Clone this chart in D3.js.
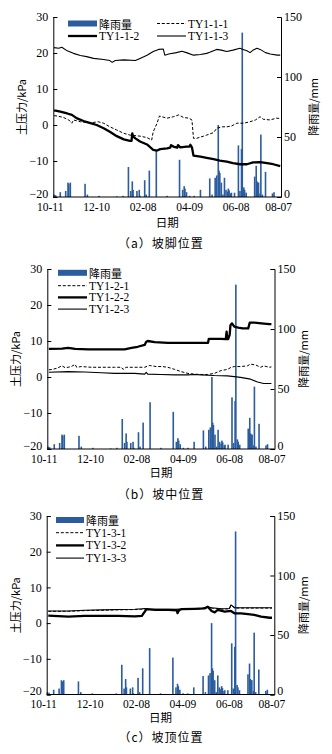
<!DOCTYPE html>
<html>
<head>
<meta charset="utf-8">
<script src="https://cdn.jsdelivr.net/npm/d3@7"></script>
<style>
  body { margin: 0; background: #fff; }
  svg { display: block; }
</style>
</head>
<body>
<svg id="chart" width="332" height="754"></svg>
<script>
// ---- data: days counted from 10-11 ----
const tickDays = [0, 60, 120, 180, 240, 300];
const tickLabels = ["10-11", "12-10", "02-08", "04-09", "06-08", "08-07"];
const pressureTicks = [-20, -10, 0, 10, 20, 30];
const rainTicks = [0, 50, 100, 150];

// daily rainfall (mm)
const rainDays = [5, 7, 13, 20, 23, 24, 26, 45, 48, 63, 86, 94, 101, 104, 106, 107, 112, 115, 116, 122, 124, 128, 137,
  151, 167, 171, 173, 174, 176, 180, 186, 194, 206, 209, 213, 215, 217, 218, 219, 221, 223, 225, 227, 229, 230, 231,
  233, 234, 238, 243, 245, 247, 248, 250, 251, 253, 264, 266, 267, 268, 269, 271, 272, 274, 278, 287, 289];
const rainMm = [2, 1.5, 4, 5, 12, 11, 12, 11, 2, 1, 0.5, 1, 25, 5, 13, 6, 5, 6, 1, 14, 2, 22, 39,
  1, 31, 6, 9, 7, 4, 1, 1, 6, 15.5, 2, 16, 18, 60, 22, 20, 12, 2, 16, 6, 4.5, 7, 5.5,
  3, 3.6, 3.6, 43, 5, 40, 137, 8, 6, 3.6, 17, 26, 13, 12, 12, 3, 52, 2, 21, 3, 4];

// (a) slope toe
const ty111Days = [5, 9, 17, 24, 28, 30, 39, 52, 62, 69, 77, 86, 95, 103, 116, 125, 131, 133, 138, 141, 144, 151, 159, 166,
  172, 179, 183, 185, 189, 198, 202, 206, 211, 215, 222, 228, 234, 241, 250, 258, 265, 271, 275, 284, 292, 297];
const ty111Vals = [2.6, 2.5, 2.1, 1.4, 0.5, 1.4, 0.9, 0.6, 0.9, 0.5, -0.5, -1.4, -2.3, -2.8, -3.1, -3.5, -4.2, -1.9, 0.5, 2.5,
  2.3, 1.9, 2.3, 2.8, 2.1, 1.9, 1.4, -3.7, -3.7, -3.1, -2.8, -2.5, -2.1, -0.9, -0.5, -0.5, -0.3, 0.5, 0.5, 0.9, 1.4, 2.3,
  1.6, 1.4, 1.9, 1.8];
const ty112Days = [5, 7, 13, 22, 28, 34, 43, 52, 60, 69, 77, 86, 95, 103, 105, 106, 107, 110, 116, 125, 133, 138, 142, 151,
  155, 156, 159, 164, 165, 168, 176, 180, 181, 183, 185, 194, 202, 211, 219, 228, 236, 245, 254, 262, 271, 280, 288, 297];
const ty112Vals = [4.0, 4.0, 3.7, 3.2, 2.8, 1.9, 1.1, 0.5, 0.0, -0.9, -1.9, -3.1, -4.0, -4.4, -4.4, -2.3, -3.2, -3.7, -4.6,
  -5.4, -6.9, -7.1, -6.7, -6.5, -6.3, -5.6, -6.0, -6.3, -5.6, -6.2, -6.0, -6.0, -5.5, -6.2, -8.5, -8.8, -9.1, -9.5, -9.9,
  -10.2, -10.6, -10.9, -10.9, -10.4, -10.3, -10.6, -10.9, -11.4];
const ty113Days = [5, 11, 15, 22, 30, 39, 47, 56, 69, 77, 80, 84, 95, 110, 116, 125, 133, 140, 146, 148, 153, 163, 170, 176,
  185, 194, 202, 206, 215, 221, 228, 236, 245, 249, 254, 258, 262, 267, 271, 278, 284, 293, 297];
const ty113Vals = [21.5, 21.3, 21.6, 20.6, 19.9, 19.3, 19.0, 18.5, 18.2, 17.9, 17.4, 17.9, 18.1, 17.9, 18.5, 19.4, 20.4, 21.0,
  21.1, 19.4, 19.7, 20.1, 20.5, 20.1, 19.4, 19.6, 19.9, 20.2, 21.0, 20.8, 20.4, 20.8, 21.3, 21.0, 20.6, 20.1, 20.8, 21.3,
  21.0, 20.1, 19.7, 19.4, 19.4];

// (b) mid slope
const ty121Days = [6, 10, 16, 23, 27, 31, 35, 40, 42, 48, 61, 74, 91, 100, 102, 106, 117, 130, 136, 145, 153, 160, 169, 177,
  186, 194, 203, 211, 220, 229, 237, 242, 246, 254, 263, 267, 274, 280, 284, 291, 294];
const ty121Vals = [2.0, 2.1, 2.4, 3.1, 2.6, 2.7, 2.9, 3.5, 2.7, 2.9, 2.7, 2.7, 2.7, 2.7, 2.1, 2.7, 2.7, 2.7, 3.2, 2.9, 2.9,
  2.7, 2.1, 1.5, 1.0, 0.8, 0.7, 0.7, 1.0, 1.8, 2.1, 2.7, 2.9, 2.9, 3.1, 3.6, 3.3, 2.7, 3.1, 2.7, 2.8];
const ty122Days = [6, 23, 31, 40, 57, 74, 91, 104, 113, 121, 130, 132, 134, 143, 160, 177, 194, 211, 212, 213, 220, 229, 235,
  236, 237, 238, 240, 241, 243, 246, 251, 257, 263, 264, 266, 272, 281, 291, 294];
const ty122Vals = [7.8, 7.9, 8.1, 7.8, 7.7, 7.7, 7.7, 7.7, 8.1, 8.4, 8.9, 9.8, 10.0, 9.7, 9.5, 9.5, 9.5, 9.5, 9.5, 10.6, 10.6,
  10.6, 10.5, 12.6, 10.5, 10.5, 11.7, 14.4, 14.9, 14.0, 13.7, 13.5, 13.5, 13.5, 15.1, 15.1, 14.9, 14.7, 14.7];
const ty123Days = [6, 31, 52, 74, 91, 117, 130, 132, 134, 151, 169, 186, 194, 203, 220, 237, 246, 254, 267, 276, 284, 291, 294];
const ty123Vals = [1.3, 1.5, 1.4, 1.2, 1.0, 1.0, 0.8, 1.3, 0.8, 0.7, 0.6, 0.6, 0.7, 0.6, 0.4, 0.3, 0.1, -0.1, -0.6, -1.4,
  -1.8, -1.8, -1.8];

// (c) slope top
const ty131Days = [6, 32, 53, 75, 96, 118, 127, 131, 135, 152, 169, 187, 204, 212, 217, 230, 240, 242, 247, 264, 281, 292, 295];
const ty131Vals = [3.3, 3.3, 3.5, 3.6, 3.7, 3.8, 3.9, 4.0, 3.8, 3.8, 3.8, 3.9, 4.0, 4.5, 4.2, 3.9, 4.0, 5.0, 4.2, 4.2, 4.2,
  4.2, 4.2];
const ty132Days = [6, 32, 53, 75, 96, 118, 127, 129, 133, 144, 161, 172, 173, 175, 178, 195, 208, 212, 217, 221, 225, 234,
  242, 247, 255, 264, 272, 281, 292, 295];
const ty132Vals = [2.1, 1.8, 2.0, 2.0, 2.0, 1.9, 2.0, 2.7, 3.9, 3.7, 3.7, 3.6, 2.8, 3.6, 3.9, 4.0, 4.1, 4.6, 3.4, 3.0, 3.7,
  3.2, 3.4, 2.7, 2.7, 2.5, 2.3, 1.8, 1.5, 1.5];
const ty133Days = [6, 32, 53, 75, 96, 118, 127, 131, 135, 152, 169, 187, 204, 212, 217, 230, 240, 242, 247, 264, 281, 292, 295];
const ty133Vals = [3.4, 3.4, 3.6, 3.7, 3.8, 3.9, 4.0, 4.1, 3.9, 3.9, 3.9, 4.0, 4.1, 4.6, 4.3, 4.0, 4.1, 5.1, 4.3, 4.3, 4.3,
  4.3, 4.3];

// ---- drawing ----
const svg = d3.select("#chart");
const RAIN = "#2a5c9e";
const SERIF = "'Liberation Serif', 'Times New Roman', serif";
const CJK = "'Noto Sans CJK SC', sans-serif";

const styles = {
  dashed: { width: 1, dash: "3,1.8" },
  thick: { width: 2.3, dash: null },
  thin: { width: 1.1, dash: null }
};

const panels = [
  {
    left: 53.3, right: 281, top: 17, bottom: 197, caption: "（a）坡脚位置",
    yTitleX: 21, rTitleX: 313, xTitleY: 222, captionY: 242,
    series: [
      { name: "TY1-1-1", days: ty111Days, vals: ty111Vals, style: "dashed" },
      { name: "TY1-1-2", days: ty112Days, vals: ty112Vals, style: "thick" },
      { name: "TY1-1-3", days: ty113Days, vals: ty113Vals, style: "thin" }
    ],
    legend: { type: "grid", x0: 68, x1: 157, y0: 23.5, dy: 12.5, sw: 29, lift: 0 }
  },
  {
    left: 47.3, right: 274.5, top: 269, bottom: 449, caption: "（b）坡中位置",
    yTitleX: 15, rTitleX: 303, xTitleY: 472, captionY: 493,
    series: [
      { name: "TY1-2-1", days: ty121Days, vals: ty121Vals, style: "dashed" },
      { name: "TY1-2-2", days: ty122Days, vals: ty122Vals, style: "thick" },
      { name: "TY1-2-3", days: ty123Days, vals: ty123Vals, style: "thin" }
    ],
    legend: { type: "column", x0: 58, y0: 274, dy: 11.7, sw: 29, lift: 1.2 }
  },
  {
    left: 46.7, right: 274.3, top: 516, bottom: 694.5, caption: "（c）坡顶位置",
    yTitleX: 15, rTitleX: 303, xTitleY: 717, captionY: 736,
    series: [
      { name: "TY1-3-1", days: ty131Days, vals: ty131Vals, style: "dashed" },
      { name: "TY1-3-2", days: ty132Days, vals: ty132Vals, style: "thick" },
      { name: "TY1-3-3", days: ty133Days, vals: ty133Vals, style: "thin" }
    ],
    legend: { type: "column", x0: 56, y0: 520, dy: 12.7, sw: 28, lift: 0 }
  }
];

panels.forEach(p => {
  const g = svg.append("g");
  const x = d3.scaleLinear().domain([4, 298]).range([p.left, p.right]);
  const y = d3.scaleLinear().domain([-20, 30]).range([p.bottom, p.top]);
  const yr = d3.scaleLinear().domain([0, 150]).range([p.bottom, p.top]);

  // rainfall bars
  const bw = Math.max(1.6, x(1) - x(0));
  g.append("g").selectAll("rect")
    .data(rainDays.map((d, i) => ({ d, v: rainMm[i] })))
    .join("rect")
    .attr("x", r => x(r.d) - bw / 2)
    .attr("y", r => yr(r.v))
    .attr("width", bw)
    .attr("height", r => yr(0) - yr(r.v))
    .attr("fill", RAIN);

  // pressure lines
  p.series.forEach(s => {
    const st = styles[s.style];
    const line = d3.line().x(d => x(d[0])).y(d => y(d[1]));
    g.append("path")
      .attr("d", line(s.days.map((d, i) => [d, s.vals[i]])))
      .attr("fill", "none")
      .attr("stroke", "#000")
      .attr("stroke-width", st.width)
      .attr("stroke-linejoin", "round")
      .attr("stroke-dasharray", st.dash);
  });

  // left axis (ticks pointing inward)
  const yAxis = d3.axisRight(y).tickValues(pressureTicks).tickSize(4)
    .tickFormat(v => String(v).replace("-", "\u2212"));
  const ga = g.append("g").attr("transform", `translate(${p.left},0)`).call(yAxis);
  ga.selectAll("text").attr("x", -5).attr("text-anchor", "end");
  // right axis (ticks pointing inward)
  const rAxis = d3.axisLeft(yr).tickValues(rainTicks).tickSize(4);
  const gr = g.append("g").attr("transform", `translate(${p.right},0)`).call(rAxis);
  gr.selectAll("text").attr("x", 3).attr("text-anchor", "start");
  [ga, gr].forEach(a => {
    a.select(".domain").attr("stroke", "#000").attr("stroke-width", 1);
    a.selectAll(".tick line").attr("stroke", "#000");
    a.selectAll("text").attr("font-family", SERIF).attr("font-size", 12).attr("fill", "#000");
  });
  // the lowest value labels sit just above the baseline, clear of the date labels
  ga.selectAll(".tick").filter(v => v === -20).select("text").attr("dy", "0em");
  gr.selectAll(".tick").filter(v => v === 0).select("text").attr("dy", "0em");

  // bottom axis line and date labels
  g.append("line").attr("x1", p.left).attr("x2", p.right)
    .attr("y1", p.bottom).attr("y2", p.bottom).attr("stroke", "#000").attr("stroke-width", 1);
  g.append("g").selectAll("text").data(tickDays).join("text")
    .attr("x", (d, i) => x(d) - (i === tickDays.length - 1 ? 4 : 0))
    .attr("y", p.bottom + 13.8)
    .attr("text-anchor", "middle")
    .attr("font-family", SERIF).attr("font-size", 11.5)
    .text((d, i) => tickLabels[i]);

  // titles
  const midY = (p.top + p.bottom) / 2;
  g.append("text").attr("transform", `translate(${p.yTitleX},${midY}) rotate(-90)`)
    .attr("text-anchor", "middle").attr("dominant-baseline", "central")
    .attr("font-family", CJK).attr("font-size", 11).text("土压力/kPa");
  g.append("text").attr("transform", `translate(${p.rTitleX},${midY}) rotate(-90)`)
    .attr("text-anchor", "middle").attr("dominant-baseline", "central")
    .attr("font-family", CJK).attr("font-size", 11).text("降雨量/mm");
  g.append("text").attr("x", (p.left + p.right) / 2).attr("y", p.xTitleY)
    .attr("text-anchor", "middle").attr("dominant-baseline", "central")
    .attr("font-family", CJK).attr("font-size", 11.5).text("日期");
  g.append("text").attr("x", 161).attr("y", p.captionY)
    .attr("text-anchor", "middle").attr("dominant-baseline", "central")
    .attr("font-family", CJK).attr("font-size", 12).attr("letter-spacing", 1).text(p.caption);

  // legend: rainfall swatch first, then the three gauges
  const L = p.legend;
  const items = [{ name: "降雨量", style: "bar" }].concat(p.series.map(s => ({ name: s.name, style: s.style })));
  const pos = items.map((it, i) => L.type === "grid"
    ? { x: i % 2 === 0 ? L.x0 : L.x1, y: L.y0 + Math.floor(i / 2) * L.dy }
    : { x: L.x0, y: L.y0 + i * L.dy - (i === 0 ? L.lift : 0) });
  const lg = g.append("g");
  items.forEach((it, i) => {
    const q = pos[i];
    if (it.style === "bar") {
      lg.append("rect").attr("x", q.x).attr("y", q.y - 3).attr("width", L.sw).attr("height", 6).attr("fill", RAIN);
    } else {
      const st = styles[it.style];
      lg.append("line").attr("x1", q.x).attr("x2", q.x + L.sw).attr("y1", q.y).attr("y2", q.y)
        .attr("stroke", "#000").attr("stroke-width", st.width).attr("stroke-dasharray", st.dash);
    }
    lg.append("text").attr("x", q.x + L.sw + 2).attr("y", q.y)
      .attr("dominant-baseline", "central")
      .attr("font-family", it.style === "bar" ? CJK : SERIF)
      .attr("font-size", it.style === "bar" ? 11 : 11.5)
      .text(it.name);
  });
});
</script>
</body>
</html>
